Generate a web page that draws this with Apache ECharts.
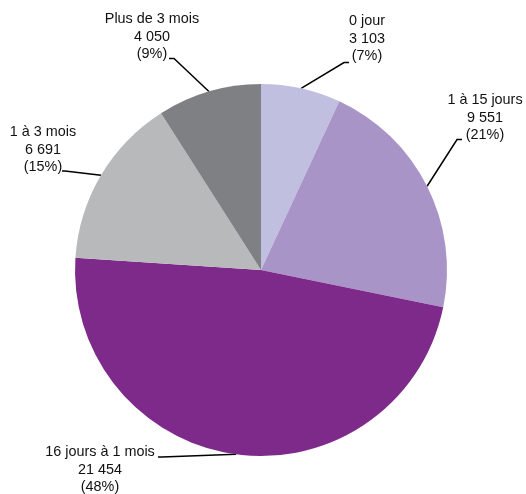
<!DOCTYPE html>
<html>
<head>
<meta charset="utf-8">
<script src="https://cdn.jsdelivr.net/npm/echarts@6/dist/echarts.min.js"></script>
<style>html,body{margin:0;padding:0;background:#fff;}#c{width:526px;height:494px;}</style>
</head>
<body>
<div id="c"></div>
<script>
const categories = ['0 jour', '1 à 15 jours', '16 jours à 1 mois', '1 à 3 mois', 'Plus de 3 mois'];
const values = [3103, 9551, 21454, 6691, 4050];
const colors = ['#c1bfe0', '#a994c7', '#7e2a8b', '#b8b9bb', '#7f8084'];

// label placement (layout only)
const labelSpots = [
  { cx: 367, cy: 39, elbow: [344, 62.5], end: [349, 62.5] },
  { cx: 485, cy: 118, elbow: [457, 139.5], end: [462, 139.5] },
  { cx: 100, cy: 470, elbow: [162, 457], end: [158, 457] },
  { cx: 43, cy: 150, elbow: [65, 171], end: [62, 171] },
  { cx: 152, cy: 37, elbow: [174, 58.5], end: [169, 58.5] }
];

function fmt(n) {
  return String(n).replace(/\B(?=(\d{3})+(?!\d))/g, ' ');
}

const chart = echarts.init(document.getElementById('c'), null, { renderer: 'canvas' });
chart.setOption({
  animation: false,
  backgroundColor: '#ffffff',
  series: [{
    type: 'pie',
    center: [261, 270],
    radius: [0, 186],
    startAngle: 90,
    clockwise: true,
    avoidLabelOverlap: false,
    data: categories.map((c, i) => ({ name: c, value: values[i], itemStyle: { color: colors[i] } })),
    itemStyle: { borderWidth: 0 },
    emphasis: { disabled: true },
    label: {
      show: true,
      position: 'outside',
      color: '#111',
      fontFamily: 'Liberation Sans, Arial, sans-serif',
      fontSize: 14.4,
      lineHeight: 17.5,
      align: 'center',
      formatter: p => p.name + '\n' + fmt(p.value) + '\n(' + Math.round(p.percent) + '%)'
    },
    labelLine: {
      show: true,
      length: 20,
      length2: 10,
      smooth: false,
      lineStyle: { color: '#000', width: 1.5 }
    },
    labelLayout: function (params) {
      const s = labelSpots[params.dataIndex];
      const p0 = params.labelLinePoints ? params.labelLinePoints[0] : s.elbow;
      return {
        x: s.cx,
        y: s.cy,
        align: 'center',
        verticalAlign: 'middle',
        labelLinePoints: [p0, s.elbow, s.end]
      };
    }
  }]
});
</script>
</body>
</html>
